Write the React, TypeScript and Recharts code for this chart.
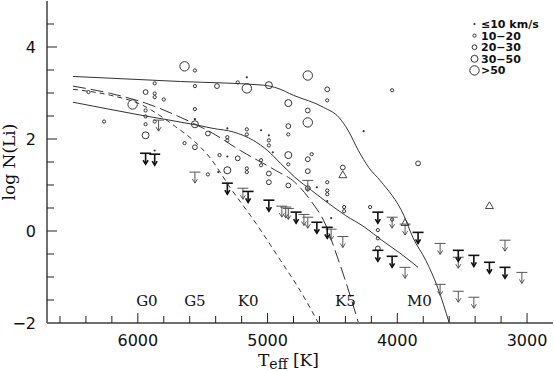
import React from 'react';
import { ComposedChart, Scatter, Line, XAxis, YAxis, Legend, Label } from 'recharts';

type P = [number, number];

// ---- model curves (Teff, log N(Li)) ----
const upperSolidCurve: P[] = [
  [6500, 3.36], [5670, 3.25], [5030, 3.17], [4920, 3.1], [4800, 2.95], [4570, 2.69],
  [4450, 2.47], [4380, 2.19], [4300, 1.75], [4220, 1.38], [4130, 1.09], [3950, 0.34],
  [3880, -0.14], [3780, -0.64], [3690, -1.22], [3600, -2.0],
];
const lowerSolidCurve: P[] = [
  [6500, 2.8], [5980, 2.52], [5540, 2.3], [5420, 2.23], [5260, 2.15], [5110, 1.97],
  [5000, 1.75], [4900, 1.47], [4790, 1.17], [4660, 0.88], [4530, 0.6], [4400, 0.34],
  [4250, 0.08], [4120, -0.2], [3980, -0.48], [3840, -0.79],
];
const longDashCurve: P[] = [
  [6500, 3.15], [6210, 2.99], [5940, 2.78], [5670, 2.47], [5420, 2.12], [5210, 1.75],
  [4940, 1.32], [4790, 1.06], [4670, 0.67], [4550, 0.12], [4480, -0.42], [4400, -1.08],
  [4300, -1.99],
];
const shortDashCurve: P[] = [
  [6500, 3.08], [6210, 2.95], [5960, 2.73], [5830, 2.51], [5710, 2.27], [5580, 1.99],
  [5440, 1.58], [5290, 0.95], [5090, 0.17], [4900, -0.64], [4750, -1.29], [4610, -1.99],
];

// ---- detections by v sin i class ----
const vsiniUpTo10: P[] = [
  [5160, 3.34], [4260, 2.17], [5560, 2.43], [5310, 2.23], [5050, 2.19], [4990, 2.08],
  [4960, 1.71], [5310, 1.62], [5380, 1.28], [4620, 0.95], [4540, 0.65], [4510, 0.28],
  [5870, 1.75],
];
const vsini10to20: P[] = [
  [6380, 3.02], [6260, 2.38], [5870, 3.21], [5870, 2.99], [5870, 2.91], [5800, 2.86],
  [5940, 2.62], [5940, 2.49], [5940, 2.32], [5870, 2.38], [5560, 3.49], [5560, 3.15],
  [5230, 3.23], [4540, 2.84], [4840, 2.1], [4040, 3.06], [5560, 2.65], [5640, 1.91],
  [5310, 2.04], [5310, 1.97], [5160, 2.21], [5160, 2.1], [4990, 1.97], [4990, 1.86],
  [4840, 1.45], [4660, 1.67], [5370, 1.65], [5160, 1.36], [5160, 1.28], [5050, 1.54],
  [5050, 1.43], [5460, 1.23], [4540, 1.06], [4540, 0.88], [4540, 0.8], [4410, 0.52],
  [4410, 0.43], [4210, 0.52], [4150, 0.02], [4150, -0.16], [4040, 0.25],
];
const vsini20to30: P[] = [
  [5940, 3.02], [5390, 3.15], [4540, 3.08], [4690, 2.62], [4840, 2.28], [5460, 2.12],
  [5560, 1.82], [4690, 1.56], [4690, 1.3], [5230, 1.58], [4990, 1.25], [4990, 1.06],
  [4420, 1.38], [4840, 0.99], [3840, 1.47], [4690, 0.93], [4150, -0.38],
];
const vsini30to50: P[] = [
  [5940, 2.08], [4990, 3.17], [4840, 2.78], [5560, 2.32], [4840, 1.65], [5310, 1.32],
];
const vsiniOver50: P[] = [
  [6040, 2.75], [5640, 3.58], [5160, 3.1], [4690, 3.38], [4690, 2.36],
];

// ---- upper limits ----
const upperLimitsBold: P[] = [
  [5940, 1.69], [5870, 1.67], [5310, 1.04], [5150, 0.86], [4990, 0.67], [4780, 0.41],
  [4620, 0.19], [4540, 0.08], [4150, 0.41], [3840, -0.03], [3530, -0.42], [3410, -0.53],
  [3290, -0.68], [3170, -0.79], [4150, -0.42], [4040, -0.55],
];
const upperLimitsThin: P[] = [
  [5840, 2.41], [5560, 1.28], [5190, 0.93], [4890, 0.54], [4860, 0.52], [4840, 0.49],
  [4720, 0.36], [4690, 0.3], [4510, 0.04], [4420, -0.12], [4690, 1.1], [4040, 0.3],
  [3940, 0.15], [3670, -0.27], [3530, -0.57], [3170, -0.2], [3040, -0.9], [3940, -0.79],
  [3670, -1.16], [3530, -1.31], [3410, -1.44],
];
const triangles: P[] = [[4420, 1.23], [3940, 0.19], [3290, 0.56]];

// ---- annotations / ticks ----
const spectralTypes = [
  { t: 5930, v: -1.5, label: 'G0' },
  { t: 5560, v: -1.5, label: 'G5' },
  { t: 5150, v: -1.5, label: 'K0' },
  { t: 4400, v: -1.5, label: 'K5' },
  { t: 3830, v: -1.5, label: 'M0' },
];
const xTicks = [6600, 6400, 6200, 6000, 5800, 5600, 5400, 5200, 5000, 4800, 4600, 4400, 4200, 4000, 3800, 3600, 3400, 3200, 3000];
const xMajor = [6000, 5000, 4000, 3000];
const yTicks = [-2, -1.5, -1, -0.5, 0, 0.5, 1, 1.5, 2, 2.5, 3, 3.5, 4, 4.5];
const yMajor = [-2, 0, 2, 4];
const legendLabels = ['≤10 km/s', '10−20', '20−30', '30−50', '>50'];
const legendRadii = [1.0, 1.6, 2.4, 3.5, 4.7];

const INK = '#333';
const FRAME = '#707070';
const toPts = (a: P[]) => a.map(([t, v]) => ({ t, v }));

const circleShape = (r: number) => (p: any) =>
  r <= 1.05 ? (
    <circle cx={p.cx} cy={p.cy} r={1.1} fill={INK} stroke="none" />
  ) : (
    <circle cx={p.cx} cy={p.cy} r={r} fill="none" stroke={INK} strokeWidth={1} />
  );

const limitShape = (bold: boolean) => (p: any) => {
  const { cx, cy } = p;
  const col = bold ? '#111' : '#555';
  const sw = bold ? 1.6 : 1;
  return (
    <g stroke={col} strokeWidth={sw} fill="none">
      <line x1={cx - 5.5} x2={cx + 5.5} y1={cy} y2={cy} />
      <line x1={cx} x2={cx} y1={cy} y2={cy + 11} />
      <polyline points={`${cx - 2.5},${cy + 7} ${cx},${cy + 11} ${cx + 2.5},${cy + 7}`} />
    </g>
  );
};

const triangleShape = (p: any) => {
  const { cx, cy } = p;
  return (
    <polygon
      points={`${cx - 4},${cy + 3.3} ${cx + 4},${cy + 3.3} ${cx},${cy - 3.5}`}
      fill="none"
      stroke={INK}
      strokeWidth={0.9}
    />
  );
};

const spectralShape = (p: any) => (
  <text x={p.cx} y={p.cy + 6} textAnchor="middle" fontFamily="DejaVu Serif" fontSize={15} fill="#111">
    {p.payload.label}
  </text>
);

const fmt = (v: number) => (v < 0 ? `\u2212${Math.abs(v)}` : `${v}`);

const BottomTick = (props: any) => {
  const { x, y, payload } = props;
  const major = xMajor.includes(payload.value);
  return (
    <g>
      <line x1={x} x2={x} y1={y} y2={y - (major ? 10 : 7)} stroke="#222" strokeWidth={1} />
      {major && (
        <text x={x} y={y + 22.5} textAnchor="middle" fontFamily="DejaVu Sans" fontSize={16} fill="#111">
          {payload.value}
        </text>
      )}
    </g>
  );
};
const TopTick = (props: any) => {
  const { x, y, payload } = props;
  const major = xMajor.includes(payload.value);
  return <line x1={x} x2={x} y1={y} y2={y + (major ? 10 : 7)} stroke="#222" strokeWidth={1} />;
};
const LeftTick = (props: any) => {
  const { x, y, payload } = props;
  const major = yMajor.includes(payload.value);
  return (
    <g>
      {payload.value > -2 && (
        <line x1={x} x2={x + (major ? 10 : 7)} y1={y} y2={y} stroke="#222" strokeWidth={1} />
      )}
      {major && (
        <text x={x - 11} y={y + 6} textAnchor="end" fontFamily="DejaVu Sans" fontSize={16} fill="#111">
          {fmt(payload.value)}
        </text>
      )}
    </g>
  );
};
const RightTick = (props: any) => {
  const { x, y, payload } = props;
  const major = yMajor.includes(payload.value);
  return <line x1={x} x2={x - (major ? 10 : 7)} y1={y} y2={y} stroke="#222" strokeWidth={1} />;
};

const XLabel = (props: any) => {
  const vb = props.viewBox || {};
  const cx = (vb.x || 0) + (vb.width || 0) / 2;
  return (
    <text x={cx - 42} y={366} fontFamily="DejaVu Serif" fontSize={17} fill="#111">
      <tspan>T</tspan>
      <tspan dy={3} fontSize={14}>eff</tspan>
      <tspan dy={-3}>{'  [K]'}</tspan>
    </text>
  );
};
const YLabel = (props: any) => {
  const vb = props.viewBox || {};
  const cy = (vb.y || 0) + (vb.height || 0) / 2;
  const x = 15;
  return (
    <text
      x={x}
      y={cy}
      transform={`rotate(-90 ${x} ${cy})`}
      textAnchor="middle"
      fontFamily="DejaVu Serif"
      fontSize={17}
      fill="#111"
    >
      log N(Li)
    </text>
  );
};

const LegendBox = () => (
  <svg width={92} height={72}>
    {legendLabels.map((txt, i) => {
      const cy = 12 + i * 11.6;
      return (
        <g key={txt}>
          {i === 0 ? (
            <circle cx={14.5} cy={cy} r={1.1} fill={INK} />
          ) : (
            <circle cx={14.5} cy={cy} r={legendRadii[i]} fill="none" stroke={INK} strokeWidth={1} />
          )}
          <text x={21} y={cy + 4} fontFamily="DejaVu Sans" fontWeight="bold" fontSize={11} fill="#111">
            {txt}
          </text>
        </g>
      );
    })}
  </svg>
);

export default function App() {
  return (
    <div style={{ position: 'absolute', left: 0, top: 0, background: '#fff' }}>
      <ComposedChart width={554} height={371} margin={{ top: 1, right: 1, bottom: 0, left: 0 }}>
        <XAxis
          xAxisId="main"
          dataKey="t"
          type="number"
          domain={[2800, 6700]}
          allowDataOverflow
          reversed
          ticks={xTicks}
          interval={0}
          height={48}
          tickSize={0}
          tickMargin={0}
          tickLine={false}
          axisLine={{ stroke: FRAME, strokeWidth: 2 }}
          tick={<BottomTick />}
        >
          <Label content={<XLabel />} />
        </XAxis>
        <XAxis
          xAxisId="top"
          orientation="top"
          dataKey="t"
          type="number"
          domain={[2800, 6700]}
          allowDataOverflow
          reversed
          ticks={xTicks}
          interval={0}
          height={0}
          tickSize={0}
          tickMargin={0}
          tickLine={false}
          axisLine={{ stroke: FRAME, strokeWidth: 2 }}
          tick={<TopTick />}
        />
        <YAxis
          yAxisId="main"
          type="number"
          domain={[-2, 5]}
          allowDataOverflow
          ticks={yTicks}
          interval={0}
          width={47}
          tickSize={0}
          tickMargin={0}
          tickLine={false}
          axisLine={{ stroke: FRAME, strokeWidth: 2 }}
          tick={<LeftTick />}
        >
          <Label content={<YLabel />} />
        </YAxis>
        <YAxis
          yAxisId="right"
          orientation="right"
          type="number"
          domain={[-2, 5]}
          allowDataOverflow
          ticks={yTicks}
          interval={0}
          width={0}
          tickSize={0}
          tickMargin={0}
          tickLine={false}
          axisLine={{ stroke: FRAME, strokeWidth: 2 }}
          tick={<RightTick />}
        />

        <Line xAxisId="main" yAxisId="main" data={toPts(upperSolidCurve)} dataKey="v" type="monotone" stroke={INK} strokeWidth={1} dot={false} isAnimationActive={false} />
        <Line xAxisId="main" yAxisId="main" data={toPts(lowerSolidCurve)} dataKey="v" type="monotone" stroke={INK} strokeWidth={1} dot={false} isAnimationActive={false} />
        <Line xAxisId="main" yAxisId="main" data={toPts(longDashCurve)} dataKey="v" type="monotone" stroke={INK} strokeWidth={1} strokeDasharray="13 5" dot={false} isAnimationActive={false} />
        <Line xAxisId="main" yAxisId="main" data={toPts(shortDashCurve)} dataKey="v" type="monotone" stroke={INK} strokeWidth={1} strokeDasharray="5 4" dot={false} isAnimationActive={false} />

        <Scatter xAxisId="main" yAxisId="main" data={toPts(vsiniUpTo10)} dataKey="v" shape={circleShape(1)} isAnimationActive={false} />
        <Scatter xAxisId="main" yAxisId="main" data={toPts(vsini10to20)} dataKey="v" shape={circleShape(1.6)} isAnimationActive={false} />
        <Scatter xAxisId="main" yAxisId="main" data={toPts(vsini20to30)} dataKey="v" shape={circleShape(2.4)} isAnimationActive={false} />
        <Scatter xAxisId="main" yAxisId="main" data={toPts(vsini30to50)} dataKey="v" shape={circleShape(3.5)} isAnimationActive={false} />
        <Scatter xAxisId="main" yAxisId="main" data={toPts(vsiniOver50)} dataKey="v" shape={circleShape(4.7)} isAnimationActive={false} />
        <Scatter xAxisId="main" yAxisId="main" data={toPts(upperLimitsThin)} dataKey="v" shape={limitShape(false)} isAnimationActive={false} />
        <Scatter xAxisId="main" yAxisId="main" data={toPts(upperLimitsBold)} dataKey="v" shape={limitShape(true)} isAnimationActive={false} />
        <Scatter xAxisId="main" yAxisId="main" data={toPts(triangles)} dataKey="v" shape={triangleShape} isAnimationActive={false} />
        <Scatter xAxisId="main" yAxisId="main" data={spectralTypes} dataKey="v" shape={spectralShape} isAnimationActive={false} />

        <Legend
          layout="vertical"
          align="center"
          verticalAlign="middle"
          wrapperStyle={{ position: 'absolute', left: 460, top: 12, width: 92, height: 72 }}
          content={() => <LegendBox />}
        />
      </ComposedChart>
    </div>
  );
}
